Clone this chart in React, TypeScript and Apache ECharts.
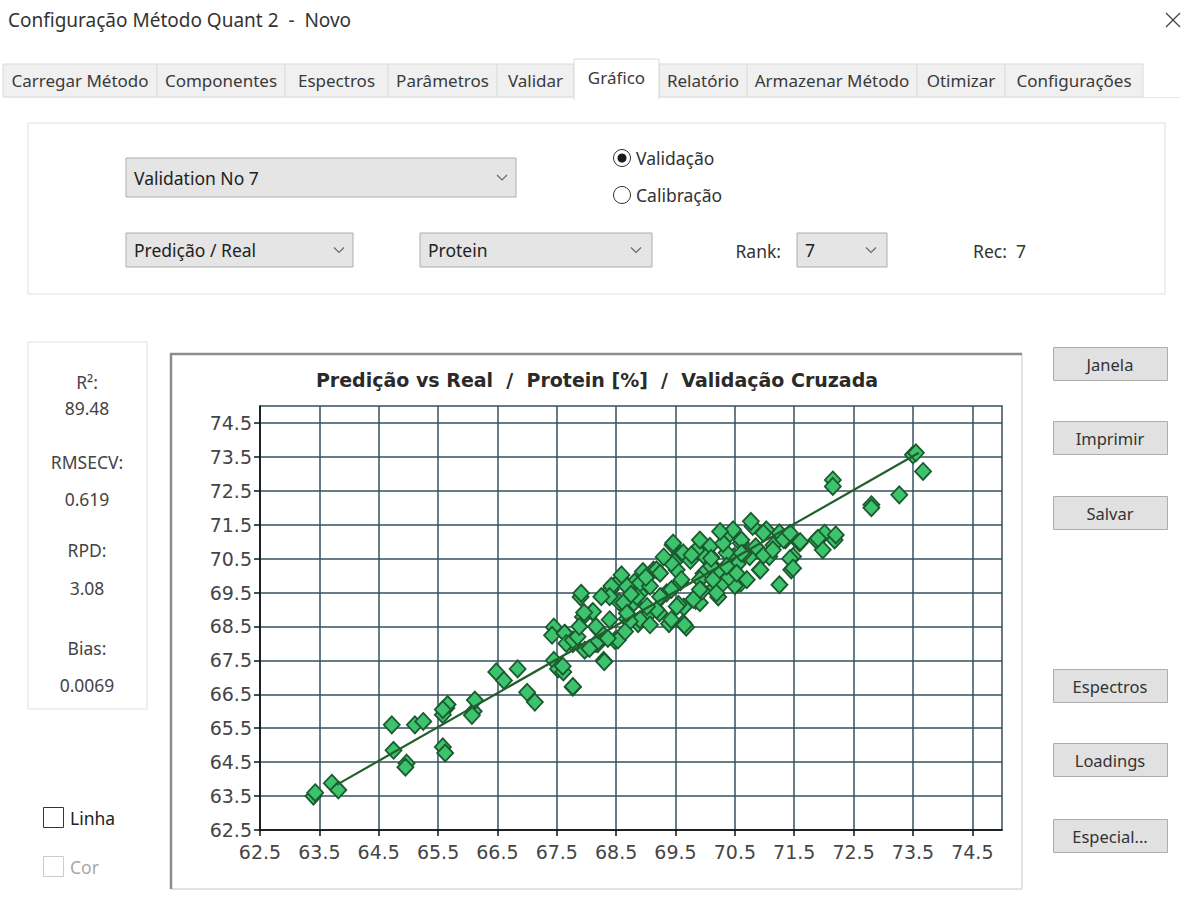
import React, { useEffect, useRef } from "react";
import * as echarts from "echarts";

// ---------- data ----------
const xTicks = [62.5, 63.5, 64.5, 65.5, 66.5, 67.5, 68.5, 69.5, 70.5, 71.5, 72.5, 73.5, 74.5];
const yTicks = [62.5, 63.5, 64.5, 65.5, 66.5, 67.5, 68.5, 69.5, 70.5, 71.5, 72.5, 73.5, 74.5];

// [real, predicted]
const validationPoints: number[][] = [
  [63.40, 63.50], [63.43, 63.60], [63.71, 63.88], [63.82, 63.68], [64.72, 65.60], [64.75, 64.85],
  [64.97, 64.47], [64.95, 64.35], [65.11, 65.60], [65.25, 65.70], [65.58, 64.95], [65.62, 64.77],
  [65.64, 66.10], [65.58, 65.90], [65.66, 66.20], [65.58, 66.05], [66.10, 66.00], [66.12, 66.33],
  [66.07, 65.88], [66.48, 67.16], [66.61, 66.91], [66.84, 67.25], [67.00, 66.56], [67.13, 66.27],
  [67.45, 67.50], [67.52, 67.25], [67.61, 67.16], [67.77, 66.71], [67.45, 68.48], [67.42, 68.24],
  [67.64, 68.29], [67.77, 67.99], [67.97, 67.80], [67.90, 69.37], [67.94, 68.78], [68.10, 68.93],
  [68.19, 67.99], [68.29, 67.50], [68.48, 68.09], [68.39, 69.57], [68.58, 69.91], [68.55, 69.22],
  [68.68, 68.73], [68.87, 68.58], [68.90, 69.47], [69.06, 68.88], [68.81, 69.81], [69.13, 70.16],
  [69.26, 69.37], [69.39, 68.58], [69.45, 70.90], [69.48, 70.40], [69.58, 69.81], [69.64, 69.07],
  [69.68, 68.48], [69.84, 69.27], [69.97, 70.06], [70.10, 70.55], [70.16, 69.66], [70.22, 69.37],
  [70.42, 71.24], [70.48, 70.55], [70.55, 69.76], [73.50, 73.56], [73.55, 73.62], [73.67, 73.07],
  [73.27, 72.38], [72.80, 72.09], [72.80, 72.00], [72.15, 72.82], [72.15, 72.63], [72.01, 71.25],
  [72.18, 71.05], [71.98, 70.76], [71.87, 71.05], [72.20, 71.20], [71.25, 69.73], [71.59, 70.96],
  [71.48, 70.56], [71.45, 70.17], [71.25, 71.26], [71.03, 71.35], [70.80, 71.45], [70.77, 71.60],
  [70.47, 71.35], [70.60, 70.96], [70.36, 70.67], [70.19, 70.17], [70.02, 70.76], [69.91, 69.88],
  [69.63, 70.67], [69.46, 70.96], [69.52, 70.17], [69.35, 69.49], [69.18, 70.17], [68.90, 69.78],
  [68.58, 69.88], [68.41, 69.59], [68.80, 69.20], [69.23, 68.90], [69.63, 68.60], [69.91, 69.20],
  [70.19, 69.49], [70.60, 69.78], [70.92, 70.17], [71.08, 70.56], [70.75, 70.56], [71.90, 71.10],
  [71.60, 71.00], [71.43, 70.50], [71.48, 70.22], [70.61, 71.05], [70.98, 71.25], [70.98, 70.60],
  [70.93, 70.17], [70.70, 69.88], [70.50, 69.70], [70.08, 70.86], [69.97, 70.60], [70.10, 70.28],
  [70.25, 70.07], [70.30, 69.78], [69.43, 70.37], [69.60, 69.88], [69.43, 69.59], [69.80, 69.30],
  [69.65, 68.55], [69.43, 68.70], [69.18, 68.99], [69.07, 69.69], [69.24, 70.07], [68.95, 70.12],
  [68.68, 69.68], [68.59, 70.02], [68.42, 69.69], [68.39, 69.38], [68.62, 69.20], [68.85, 69.38],
  [68.90, 68.70], [69.07, 68.55], [68.73, 68.65], [68.53, 68.10], [68.36, 68.15], [68.30, 67.46],
  [68.11, 68.94], [67.91, 69.48], [67.96, 68.91], [67.63, 68.30], [67.66, 68.00], [67.77, 68.10],
  [67.60, 67.33], [67.77, 66.73], [68.16, 68.00], [68.05, 67.85], [70.30, 70.95], [70.55, 70.35],
  [70.85, 70.85], [71.15, 70.90], [71.35, 71.05], [70.65, 70.65], [69.75, 70.45], [69.85, 70.75],
  [69.30, 70.55], [69.00, 69.95], [68.75, 69.45], [69.55, 69.15], [69.95, 69.55], [70.40, 69.95],
  [68.65, 68.35], [68.20, 68.40], [67.85, 68.20], [69.77, 70.61], [70.10, 70.51], [70.61, 70.66],
  [71.14, 70.76], [71.32, 71.06], [71.43, 71.25], [68.68, 68.89], [69.02, 69.09], [69.24, 69.38],
  [69.52, 69.09], [69.91, 69.59], [70.13, 69.88], [70.36, 70.28], [70.53, 70.07], [68.16, 68.50],
  [68.39, 68.70], [67.88, 68.50], [68.25, 69.38], [69.91, 71.05], [70.25, 71.30],
];

const fitLine: number[][] = [[63.79, 63.83], [73.6, 73.62]];

const statLabels = ["R²:", "89.48", "RMSECV:", "0.619", "RPD:", "3.08", "Bias:", "0.0069"];
const statY = [382, 408, 462, 499, 550, 588, 648, 685];

const tabLabels = ["Carregar Método", "Componentes", "Espectros", "Parâmetros", "Validar", "Gráfico", "Relatório", "Armazenar Método", "Otimizar", "Configurações"];
const tabEdges = [3, 157, 285, 388, 497, 574, 659, 747, 917, 1005, 1143];
const selectedTab = 5;

const buttonLabels = ["Janela", "Imprimir", "Salvar", "Espectros", "Loadings", "Especial..."];
const buttonTops = [347, 421, 496, 669, 743, 819];

const UI = '"Noto Sans", sans-serif';
const CH = '"DejaVu Sans", sans-serif';

function txt(x: number, y: number, text: string, size: number, fill = "#333", align = "left", extra: any = {}) {
  return {
    type: "text",
    x,
    y,
    silent: true,
    style: { text, fontSize: size, fontFamily: UI, fill, align, verticalAlign: "middle", ...extra },
  };
}

function chevron(cx: number, cy: number) {
  return {
    type: "polyline",
    silent: true,
    shape: { points: [[cx - 5, cy - 2.5], [cx, cy + 2.5], [cx + 5, cy - 2.5]] },
    style: { stroke: "#6a6a6a", lineWidth: 1.2, fill: "none" },
  };
}

function dropdown(x: number, y: number, w: number, h: number, label: string, chevX: number) {
  return [
    { type: "rect", silent: true, shape: { x, y, width: w, height: h }, style: { fill: "#e5e5e5", stroke: "#adadad", lineWidth: 1 } },
    txt(x + 8, y + h / 2, label, 17.5, "#222"),
    chevron(chevX, y + h / 2),
  ];
}

function buildGraphics() {
  const g: any[] = [];
  // window title + close
  g.push(txt(8, 20, "Configuração Método Quant 2  -  Novo", 19, "#333"));
  g.push({ type: "line", silent: true, shape: { x1: 1166, y1: 13, x2: 1180, y2: 27 }, style: { stroke: "#444", lineWidth: 1.3 } });
  g.push({ type: "line", silent: true, shape: { x1: 1180, y1: 13, x2: 1166, y2: 27 }, style: { stroke: "#444", lineWidth: 1.3 } });

  // tabs
  g.push({ type: "rect", silent: true, shape: { x: tabEdges[0], y: 64, width: tabEdges[tabEdges.length - 1] - tabEdges[0], height: 33 }, style: { fill: "#f0f0f0", stroke: "#d9d9d9", lineWidth: 1 } });
  for (let i = 1; i < tabEdges.length - 1; i++) {
    g.push({ type: "line", silent: true, shape: { x1: tabEdges[i], y1: 64, x2: tabEdges[i], y2: 97 }, style: { stroke: "#d9d9d9", lineWidth: 1 } });
  }
  g.push({ type: "line", silent: true, shape: { x1: 3, y1: 97.5, x2: 1180, y2: 97.5 }, style: { stroke: "#e8e8e8", lineWidth: 1 } });
  const sx = tabEdges[selectedTab];
  const sw = tabEdges[selectedTab + 1] - sx;
  g.push({ type: "rect", silent: true, shape: { x: sx, y: 59, width: sw, height: 40 }, style: { fill: "#ffffff", stroke: "#d9d9d9", lineWidth: 1 } });
  g.push({ type: "rect", silent: true, shape: { x: sx + 1, y: 96, width: sw - 2, height: 4 }, style: { fill: "#ffffff" } });
  tabLabels.forEach((t, i) => {
    const cx = (tabEdges[i] + tabEdges[i + 1]) / 2;
    g.push(txt(cx, i === selectedTab ? 77 : 80, t, 17, "#3a3a3a", "center"));
  });

  // top panel
  g.push({ type: "rect", silent: true, shape: { x: 28, y: 123, width: 1137, height: 171 }, style: { fill: "#ffffff", stroke: "#e0e0e0", lineWidth: 1 } });
  g.push(...dropdown(126, 158, 390, 39, "Validation No 7", 502));
  g.push(...dropdown(126, 233, 227, 34, "Predição / Real", 339));
  g.push(...dropdown(420, 233, 232, 34, "Protein", 636));
  g.push(...dropdown(797, 233, 90, 34, "7", 871));
  g.push(txt(781, 251, "Rank:", 17.5, "#333", "right"));
  g.push(txt(973, 251, "Rec:  7", 17.5, "#333"));
  // radios
  g.push({ type: "circle", silent: true, shape: { cx: 622, cy: 158, r: 8.5 }, style: { fill: "#fff", stroke: "#333", lineWidth: 1 } });
  g.push({ type: "circle", silent: true, shape: { cx: 622, cy: 158, r: 4.5 }, style: { fill: "#1a1a1a" } });
  g.push(txt(636, 158, "Validação", 17.5, "#333"));
  g.push({ type: "circle", silent: true, shape: { cx: 622, cy: 195, r: 8.5 }, style: { fill: "#fff", stroke: "#333", lineWidth: 1 } });
  g.push(txt(636, 195, "Calibração", 17.5, "#333"));

  // stats box
  g.push({ type: "rect", silent: true, shape: { x: 28, y: 342, width: 119, height: 367 }, style: { fill: "#ffffff", stroke: "#e0e0e0", lineWidth: 1 } });
  statLabels.forEach((t, i) => g.push(txt(87, statY[i], t, 17.5, "#444", "center")));

  // checkboxes
  g.push({ type: "rect", silent: true, shape: { x: 43.5, y: 807.5, width: 20, height: 20 }, style: { fill: "#fff", stroke: "#333", lineWidth: 1 } });
  g.push(txt(70, 818, "Linha", 17.5, "#222"));
  g.push({ type: "rect", silent: true, shape: { x: 43.5, y: 856.5, width: 20, height: 20 }, style: { fill: "#fff", stroke: "#cccccc", lineWidth: 1 } });
  g.push(txt(70, 867, "Cor", 17.5, "#a8a8a8"));

  // chart frame
  g.push({ type: "rect", silent: true, z: -10, shape: { x: 171, y: 354, width: 851, height: 535 }, style: { fill: "#ffffff", stroke: "#c8c8c8", lineWidth: 1 } });
  g.push({ type: "line", silent: true, shape: { x1: 170, y1: 354, x2: 1022, y2: 354 }, style: { stroke: "#8c8c8c", lineWidth: 2.5 } });
  g.push({ type: "line", silent: true, shape: { x1: 171, y1: 353, x2: 171, y2: 889 }, style: { stroke: "#8c8c8c", lineWidth: 2.5 } });
  g.push({
    type: "text", silent: true, x: 597, y: 380,
    style: { text: "Predição vs Real  /  Protein [%]  /  Validação Cruzada", fontSize: 19, fontWeight: "bold", fontFamily: CH, fill: "#2a2a2a", align: "center", verticalAlign: "middle" },
  });

  // buttons
  buttonLabels.forEach((b, i) => {
    g.push({ type: "rect", silent: true, shape: { x: 1053.5, y: buttonTops[i] + 0.5, width: 114, height: 33 }, style: { fill: "#e1e1e1", stroke: "#adadad", lineWidth: 1 } });
    g.push(txt(1110, buttonTops[i] + 17, b, 16.5, "#333", "center"));
  });
  return g;
}

export default function App() {
  const ref = useRef<HTMLDivElement>(null);
  useEffect(() => {
    if (!ref.current) return;
    const chart = echarts.init(ref.current, undefined, { renderer: "svg" });
    const axisCommon = (ticks: number[]) => ({
      type: "value",
      min: 62.5,
      max: 75,
      axisLine: { show: true, onZero: false, lineStyle: { color: "#111", width: 1.5 } },
      axisTick: { show: true, length: 6, customValues: ticks, lineStyle: { color: "#111", width: 1.5 } },
      axisLabel: { customValues: ticks, fontFamily: CH, fontSize: 19, color: "#454545", formatter: (v: number) => v.toFixed(1) },
      splitLine: { show: true, lineStyle: { color: "#34505c", width: 1.5 } },
    });
    const xa: any = axisCommon(xTicks);
    xa.axisLabel.margin = 12;
    const ya: any = axisCommon(yTicks);
    ya.axisLabel.margin = 8;
    chart.setOption({
      animation: false,
      backgroundColor: "#ffffff",
      grid: {
        left: 260, top: 406, width: 742, height: 424, containLabel: false, outerBoundsMode: "none",
        show: true, backgroundColor: "#ffffff", borderColor: "#34505c", borderWidth: 1.5,
      },
      xAxis: xa,
      yAxis: ya,
      graphic: buildGraphics(),
      series: [
        {
          type: "scatter",
          data: validationPoints,
          symbol: "diamond",
          symbolSize: [16, 17],
          itemStyle: { color: "#3dc26e", borderColor: "#1b5a2e", borderWidth: 1.8, opacity: 1 },
          z: 3,
          silent: true,
        },
        {
          type: "line",
          data: fitLine,
          symbol: "none",
          lineStyle: { color: "#225f2c", width: 2.2 },
          z: 4,
          silent: true,
        },
      ],
    });
    return () => chart.dispose();
  }, []);
  return <div ref={ref} style={{ position: "fixed", left: 0, top: 0, width: 1186, height: 923, background: "#fff" }} />;
}
